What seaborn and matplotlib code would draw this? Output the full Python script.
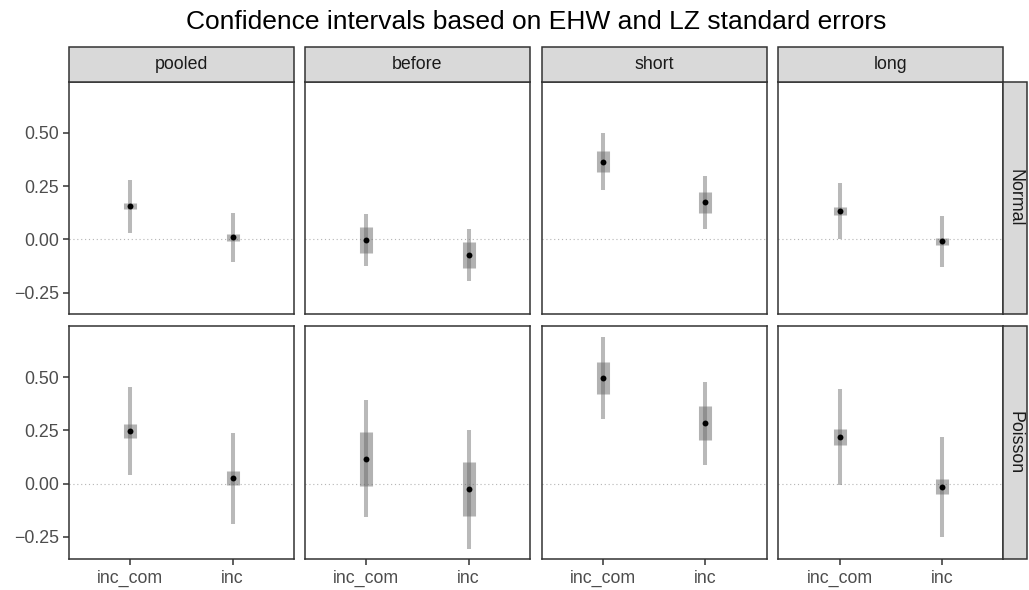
import numpy as np
import pandas as pd
import matplotlib
matplotlib.use("Agg")
import matplotlib.pyplot as plt
import seaborn as sns
from matplotlib.patches import Rectangle

# facet levels
samples = ["pooled", "before", "short", "long"]
dists = ["Normal", "Poisson"]
terms = ["inc_com", "inc"]

# estimates, per dist -> sample -> [inc_com, inc]
est_normal = {"pooled": [0.156, 0.009], "before": [-0.005, -0.074],
              "short": [0.365, 0.174], "long": [0.134, -0.009]}
est_poisson = {"pooled": [0.247, 0.025], "before": [0.116, -0.026],
               "short": [0.496, 0.284], "long": [0.219, -0.014]}

# EHW intervals (lo, hi)
ehw_normal = {"pooled": [(0.141, 0.172), (-0.007, 0.026)],
              "before": [(-0.066, 0.058), (-0.135, -0.013)],
              "short": [(0.318, 0.413), (0.125, 0.221)],
              "long": [(0.116, 0.153), (-0.027, 0.008)]}
ehw_poisson = {"pooled": [(0.216, 0.279), (-0.008, 0.058)],
               "before": [(-0.009, 0.241), (-0.153, 0.100)],
               "short": [(0.420, 0.573), (0.205, 0.363)],
               "long": [(0.182, 0.257), (-0.050, 0.022)]}

# LZ intervals (lo, hi)
lz_normal = {"pooled": [(0.031, 0.280), (-0.105, 0.125)],
             "before": [(-0.127, 0.117), (-0.195, 0.047)],
             "short": [(0.232, 0.500), (0.047, 0.299)],
             "long": [(0.003, 0.263), (-0.129, 0.109)]}
lz_poisson = {"pooled": [(0.042, 0.454), (-0.188, 0.238)],
              "before": [(-0.158, 0.391), (-0.305, 0.254)],
              "short": [(0.304, 0.687), (0.089, 0.479)],
              "long": [(-0.008, 0.445), (-0.249, 0.219)]}

yticks = [-0.25, 0.0, 0.25, 0.5]
ytick_labels = ["\u22120.25", "0.00", "0.25", "0.50"]

# build long table
rows = []
for dist, est, ehw, lz in [("Normal", est_normal, ehw_normal, lz_normal),
                           ("Poisson", est_poisson, ehw_poisson, lz_poisson)]:
    for s in samples:
        for i, t in enumerate(terms):
            rows.append({"dist": dist, "sample": s, "term": t,
                         "est": est[s][i],
                         "ehw_lo": ehw[s][i][0], "ehw_hi": ehw[s][i][1],
                         "lz_lo": lz[s][i][0], "lz_hi": lz[s][i][1]})
df = pd.DataFrame(rows)

sns.set_style("white")
plt.rcParams["font.family"] = ["Liberation Sans", "DejaVu Sans"]

g = sns.FacetGrid(df, row="dist", col="sample", row_order=dists,
                  col_order=samples, sharey=True, sharex=False,
                  despine=False, margin_titles=False)
g.figure.set_size_inches(10.29, 5.9)


def draw(data, **kws):
    ax = plt.gca()
    pos = [terms.index(t) for t in data["term"]]
    ax.axhline(0, color="#b5b5b5", lw=0.8, ls=(0, (1, 2.5)), zorder=1)
    ax.vlines(pos, data["lz_lo"], data["lz_hi"], color="#808080",
              alpha=0.55, lw=2.9, capstyle="butt", zorder=2)
    ax.vlines(pos, data["ehw_lo"], data["ehw_hi"], color="#666666",
              alpha=0.5, lw=9.4, capstyle="butt", zorder=3)
    sns.scatterplot(x=pos, y=data["est"].values, color="black", s=18,
                    linewidth=0, ax=ax, zorder=4)


g.map_dataframe(draw)
g.set_titles("")
g.set_axis_labels("", "")

# layout in pixels (figure 1029 x 590)
W, H = 1029.0, 590.0
col_left = [69, 305, 541.7, 778.3]
pw = 225.0
row_top = [82.0, 326.3]
ph = 232.3
strip_h = 35.0
strip_w = 24.0

for r in range(2):
    for c in range(4):
        ax = g.axes[r, c]
        ax.set_position([col_left[c] / W, 1 - (row_top[r] + ph) / H, pw / W, ph / H])
        ax.set_xlim(-0.6, 1.6)
        ax.set_ylim(-0.352, 0.739)
        ax.grid(False)
        for sp in ax.spines.values():
            sp.set_color("#333333")
            sp.set_linewidth(1.1)
        ax.set_xticks(range(len(terms)))
        ax.set_xticklabels(terms)
        ax.set_yticks(yticks)
        ax.set_yticklabels(ytick_labels)
        ax.tick_params(axis="both", colors="#333333", length=4.5, width=1.1,
                       labelsize=12.8, labelcolor="#4d4d4d", pad=2.5,
                       left=(c == 0), bottom=(r == 1),
                       labelleft=(c == 0), labelbottom=(r == 1))
        ax.tick_params(axis="x", pad=3.5)
        # top strips
        if r == 0:
            hfrac = strip_h / ph
            ax.add_patch(Rectangle((0, 1), 1, hfrac, transform=ax.transAxes,
                                   facecolor="#d9d9d9", edgecolor="#333333",
                                   lw=1.1, clip_on=False, zorder=5))
            ax.text(0.5, 1 + hfrac / 2, samples[c], transform=ax.transAxes,
                    ha="center", va="center", fontsize=12.8, color="#1a1a1a",
                    zorder=6)
        # right strips
        if c == 3:
            wfrac = strip_w / pw
            ax.add_patch(Rectangle((1, 0), wfrac, 1, transform=ax.transAxes,
                                   facecolor="#d9d9d9", edgecolor="#333333",
                                   lw=1.1, clip_on=False, zorder=5))
            ax.text(1 + wfrac / 2, 0.5, dists[r], transform=ax.transAxes,
                    ha="center", va="center", rotation=-90, fontsize=12.8,
                    color="#1a1a1a", zorder=6)

g.figure.text((69 + 1003.3) / 2 / W, 1 - 22 / H,
              "Confidence intervals based on EHW and LZ standard errors",
              ha="center", va="center", fontsize=19, color="black")

g.figure.savefig("out.png", dpi=100)
